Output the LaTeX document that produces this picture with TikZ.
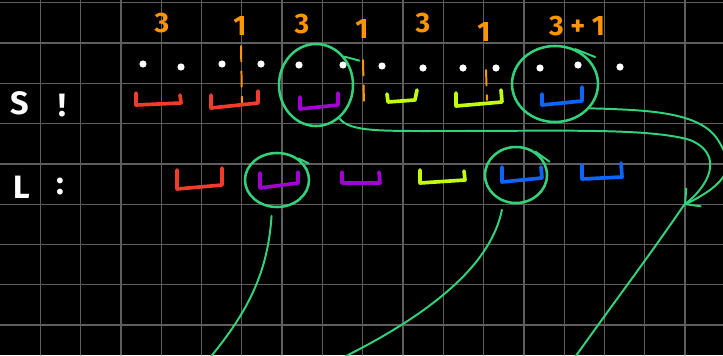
\documentclass[tikz,border=0pt]{standalone}
\usepackage{fontspec}
\setmainfont{Fira Sans}
\usetikzlibrary{shapes.geometric,arrows.meta}
\definecolor{chalkorange}{HTML}{FF9500}
\definecolor{chalkred}{HTML}{F23C2A}
\definecolor{chalkpurple}{HTML}{A300D4}
\definecolor{chalklime}{HTML}{C2FF0A}
\definecolor{chalkblue}{HTML}{0A66FF}
\definecolor{chalkgreen}{HTML}{33D27A}
\definecolor{gridgray}{HTML}{5E5E5E}
\tikzset{
  gridline/.style={draw=gridgray, line width=0.9pt},
  ring/.style={ellipse, draw=chalkgreen, line width=1.8pt, inner sep=0pt},
  link/.style={draw=chalkgreen, line width=1.4pt},
  cup/.style={draw=#1, line width=2.6pt},
  count/.style={text=chalkorange, font=\fontsize{20}{24}\selectfont\bfseries},
  rowlabel/.style={text=white, font=\fontsize{23}{27}\selectfont\bfseries},
  sep/.style={draw=chalkorange, line width=1.4pt, dash pattern=on 11pt off 7pt}
}
\begin{document}
\begin{tikzpicture}[x=0.025cm,y=-0.025cm,line cap=round,line join=round]
  \clip (0,0) rectangle (723,355);
  \fill[black] (0,0) rectangle (723,355);
  \foreach \i in {1,...,17} \draw[gridline] (40.3*\i,0) -- (40.3*\i,355);
  \foreach \j in {0,...,8} \draw[gridline] (0,2.7+40.3*\j) -- (723,2.7+40.3*\j);

  \node[count] (n1) at (162,23) {3};
  \node[count] (n2) at (240,26) {1};
  \node[count] (n3) at (302,24) {3};
  \node[count] (n4) at (362,29) {1};
  \node[count] (n5) at (423,23) {3};
  \node[count] (n6) at (484,32) {1};
  \node[count] (n7) at (577,26) {3 + 1};
  \draw[sep] (241,46) -- (242,103);
  \draw[sep] (363,60) -- (364,104);
  \draw[sep] (486,70) -- (487,100);

  \foreach \x/\y in {143/64,181/67,222/64,261/64,299/65,343/65,382/66,423/68,463/68,496/68,540/68,578/65,620/67}
    \fill[white] (\x,\y) circle (3.6);

  \node[rowlabel] (sname) at (20,103) {S};
  \node[rowlabel] (scolon) at (62,106) {!};
  \node[rowlabel] (lname) at (22,187) {L};
  \node[rowlabel] (lcolon) at (60,187) {:};

  \draw[cup=chalkred] (136,93) -- (136,105) -- (181,103) -- (180,95);
  \draw[cup=chalkred] (211,95) -- (211,108) -- (258,103) -- (258,91);
  \draw[cup=chalkpurple] (300,97) -- (300,109) -- (338,105) -- (338,93);
  \draw[cup=chalklime] (387,94) -- (388,102) -- (415,100) -- (417,90);
  \draw[cup=chalklime] (456,93) -- (456,106) -- (502,102) -- (501,90);
  \draw[cup=chalkblue] (542,94) -- (542,105) -- (582,101) -- (582,87);

  \draw[cup=chalkred] (177,170) -- (177,189) -- (222,185) -- (222,168);
  \draw[cup=chalkpurple] (260,173) -- (260,188) -- (298,183) -- (298,172);
  \draw[cup=chalkpurple] (342,172) -- (342,183) -- (380,183) -- (379,172);
  \draw[cup=chalklime] (420,170) -- (420,183) -- (465,180) -- (464,171);
  \draw[cup=chalkblue] (502,167) -- (502,182) -- (542,178) -- (541,167);
  \draw[cup=chalkblue] (582,165) -- (582,179) -- (622,177) -- (621,163);

  \node[ring, minimum width=1.85cm, minimum height=2.05cm] (cS1) at (316,85) {};
  \node[ring, minimum width=2.15cm, minimum height=1.9cm] (cS2) at (555,84) {};
  \node[ring, minimum width=1.6cm, minimum height=1.35cm] (cL1) at (277,180) {};
  \node[ring, minimum width=1.55cm, minimum height=1.4cm] (cL2) at (516,175) {};
  \draw[link] (cS1.45) -- ++(15,4);
  \draw[link] (cS2.60) -- ++(20,8);
  \draw[link] (cL1.45) -- ++(10,5);
  \draw[link] (cL2.50) -- ++(14,10);

  \coordinate (tip) at (684,205);
  \coordinate (eL1) at (208,360);
  \coordinate (eL2) at (338,360);
  \coordinate (eC) at (573,360);
  \draw[link, shorten <=0.2cm] (cL1.-100) .. controls (268,270) and (250,310) .. (eL1);
  \draw[link, shorten <=0.2cm] (cL2.-115) .. controls (492,260) and (440,310) .. (eL2);
  \draw[link, -{Straight Barb[length=8pt,width=17pt]}] (cS1.-55) .. controls (350,132) and (380,131) .. (450,131)
    .. controls (560,131) and (650,128) .. (690,140) .. controls (720,152) and (715,180) .. (tip);
  \draw[link] (cS2.-35) .. controls (650,110) and (700,112) .. (718,140)
    .. controls (730,160) and (740,178) .. (tip);
  \draw[link] (tip) .. controls (650,255) and (612,305) .. (eC);
\end{tikzpicture}
\end{document}
